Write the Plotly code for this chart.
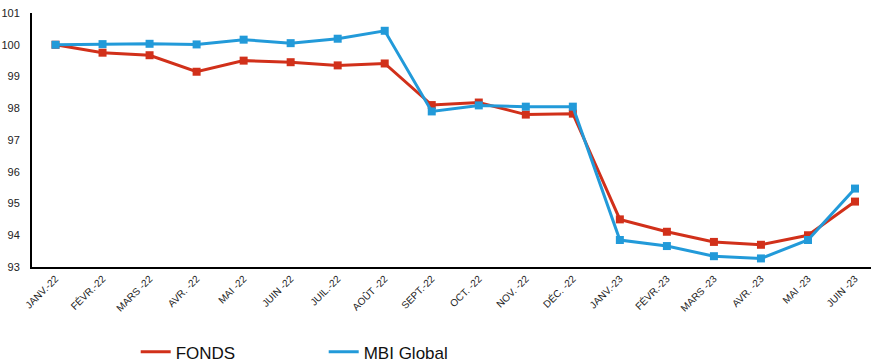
import plotly.graph_objects as go

months = ["JANV.-22", "FÉVR.-22", "MARS -22", "AVR. -22", "MAI -22", "JUIN -22",
          "JUIL.-22", "AOÛT -22", "SEPT.-22", "OCT. -22", "NOV. -22", "DÉC. -22",
          "JANV.-23", "FÉVR.-23", "MARS -23", "AVR. -23", "MAI -23", "JUIN -23"]

fonds = [100.0, 99.75, 99.67, 99.15, 99.50, 99.45, 99.35, 99.41, 98.10, 98.18,
         97.80, 97.83, 94.50, 94.11, 93.79, 93.70, 94.00, 95.06]

mbi_global = [100.0, 100.02, 100.03, 100.01, 100.16, 100.05, 100.19, 100.44, 97.90, 98.09,
              98.05, 98.05, 93.85, 93.66, 93.34, 93.27, 93.85, 95.47]

y_ticks = [93, 94, 95, 96, 97, 98, 99, 100, 101]

RED = "#D1301A"
BLUE = "#229AD9"

x_idx = list(range(len(months)))

fig = go.Figure()
# Lines carry the legend entries; square markers are drawn on top without legend entries
for name, values, color in [("FONDS", fonds, RED), ("MBI Global", mbi_global, BLUE)]:
    fig.add_trace(go.Scatter(
        x=x_idx, y=values, name=name, mode="lines",
        line=dict(color=color, width=3), legendgroup=name,
    ))
    fig.add_trace(go.Scatter(
        x=x_idx, y=values, name=name, mode="markers",
        marker=dict(symbol="square", size=8, color=color),
        legendgroup=name, showlegend=False,
    ))

fig.update_layout(
    width=871, height=361,
    margin=dict(l=32, r=0, t=13, b=94, autoexpand=False),
    paper_bgcolor="white", plot_bgcolor="white",
    font=dict(family="Liberation Sans, Arial, sans-serif", color="#222222"),
    showlegend=True,
    legend=dict(
        orientation="h", x=0.1236, xanchor="left", y=-0.265, yanchor="top",
        font=dict(size=17, color="#111111"),
        entrywidth=143, entrywidthmode="pixels",
        bgcolor="rgba(0,0,0,0)",
    ),
    xaxis=dict(
        range=[-0.5, 17.34],
        tickmode="array", tickvals=x_idx, ticktext=months,
        tickangle=-45, tickfont=dict(size=10),
        showgrid=False, zeroline=False,
        showline=True, linecolor="black", linewidth=2,
        ticks="", fixedrange=True,
    ),
    yaxis=dict(
        range=[93, 101],
        tickmode="array", tickvals=y_ticks,
        tickfont=dict(size=11),
        showgrid=False, zeroline=False,
        showline=True, linecolor="black", linewidth=2,
        ticks="", ticklabelstandoff=8,
    ),
)

fig.write_html("out.html")
